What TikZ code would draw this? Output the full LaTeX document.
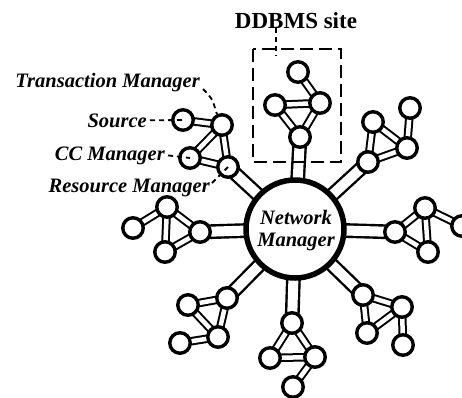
\documentclass[tikz,border=0pt]{standalone}
\usepackage{fontspec}
\setmainfont{Liberation Serif}
\usetikzlibrary{backgrounds}
\begin{document}
\begin{tikzpicture}[x=1pt,y=-1pt,
  sitenode/.style={circle,draw,line width=3.4pt,fill=white,minimum size=20.5pt,inner sep=0pt},
  nmnode/.style={circle,draw,line width=5.5pt,fill=white,minimum size=98pt,inner sep=0pt},
  link/.style={line width=2pt,double=white,double distance=4.5pt},
  spoke/.style={line width=2.4pt,double=white,double distance=10pt},
  lbl/.style={font=\fontsize{20.5}{22}\selectfont\bfseries\itshape,inner sep=0pt},
  sitelbl/.style={font=\fontsize{23}{26}\selectfont\bfseries,inner sep=0pt},
  leader/.style={line width=1.8pt,dash pattern=on 5pt off 4pt},
  sitebox/.style={line width=1.8pt,dash pattern=on 13pt off 6pt}]
\useasboundingbox (0,0) rectangle (462,397);
% network manager
\node[nmnode] (nm) at (295,229) {};
\node[lbl,align=center] (nmtext) at (296,231) {Network\\Manager};
% site 1 (top)
\node[sitenode] (a1) at (300,137) {};
\node[sitenode] (b1) at (275,105) {};
\node[sitenode] (c1) at (320,103) {};
\node[sitenode] (d1) at (298,72) {};
% site 2 (top right)
\node[sitenode] (a2) at (368,162) {};
\node[sitenode] (b2) at (373,122) {};
\node[sitenode] (c2) at (407,148) {};
\node[sitenode] (d2) at (410,108) {};
% site 3 (right)
\node[sitenode] (a3) at (395,232) {};
\node[sitenode] (b3) at (425,208) {};
\node[sitenode] (c3) at (428,252) {};
\node[sitenode] (d3) at (462,226) {};
% site 4 (bottom right)
\node[sitenode] (a4) at (363,295) {};
\node[sitenode] (b4) at (402,307) {};
\node[sitenode] (c4) at (367,333) {};
\node[sitenode] (d4) at (403,345) {};
% site 5 (bottom)
\node[sitenode] (a5) at (292,323) {};
\node[sitenode] (b5) at (270,358) {};
\node[sitenode] (c5) at (315,357) {};
\node[sitenode] (d5) at (293,387) {};
% site 6 (bottom left)
\node[sitenode] (a6) at (227,298) {};
\node[sitenode] (b6) at (188,305) {};
\node[sitenode] (c6) at (218,337) {};
\node[sitenode] (d6) at (180,343) {};
% site 7 (left)
\node[sitenode] (a7) at (200,232) {};
\node[sitenode] (b7) at (167,207) {};
\node[sitenode] (c7) at (165,252) {};
\node[sitenode] (d7) at (133,228) {};
% site 8 (top left, labelled)
\node[sitenode] (a8) at (228,167) {};
\node[sitenode] (b8) at (190,158) {};
\node[sitenode] (c8) at (222,125) {};
\node[sitenode] (d8) at (183,120) {};
\begin{pgfonlayer}{background}
  \foreach \i in {1,...,8} {
    \draw[spoke] (nm.center) -- (a\i.center);
    \draw[link] (a\i.center) -- (b\i.center);
    \draw[link] (a\i.center) -- (c\i.center);
    \draw[link] (b\i.center) -- (c\i.center);
  }
  \foreach \i in {1,2,5,6,8} { \draw[link] (c\i.center) -- (d\i.center); }
  \foreach \i in {3,4,7} { \draw[link] (b\i.center) -- (d\i.center); }
\end{pgfonlayer}
% labels
\node[lbl,anchor=base east] (ltm) at (200,87) {Transaction Manager};
\node[lbl,anchor=base east] (lsrc) at (147,127) {Source};
\node[lbl,anchor=base east] (lcc) at (165,160) {CC Manager};
\node[lbl,anchor=base east] (lrm) at (210,192) {Resource Manager};
\node[sitelbl,anchor=base] (lsite) at (296,28) {DDBMS site};
% leaders
\draw[leader] ([xshift=3pt,yshift=-2pt]ltm.base east) .. controls (212,98) .. (c8.115);
\draw[leader] ([xshift=3pt]lsrc.east) -- (d8.center);
\draw[leader] ([xshift=3pt]lcc.east) -- (b8.center);
\draw[leader] ([xshift=2pt,yshift=9pt]lrm.base east) -- (a8.center);
% site box
\draw[sitebox] (253,49) rectangle (341,162);
\coordinate (boxin) at (276,56);
\draw[leader] (lsite.south -| boxin) -- (boxin);
\end{tikzpicture}
\end{document}
